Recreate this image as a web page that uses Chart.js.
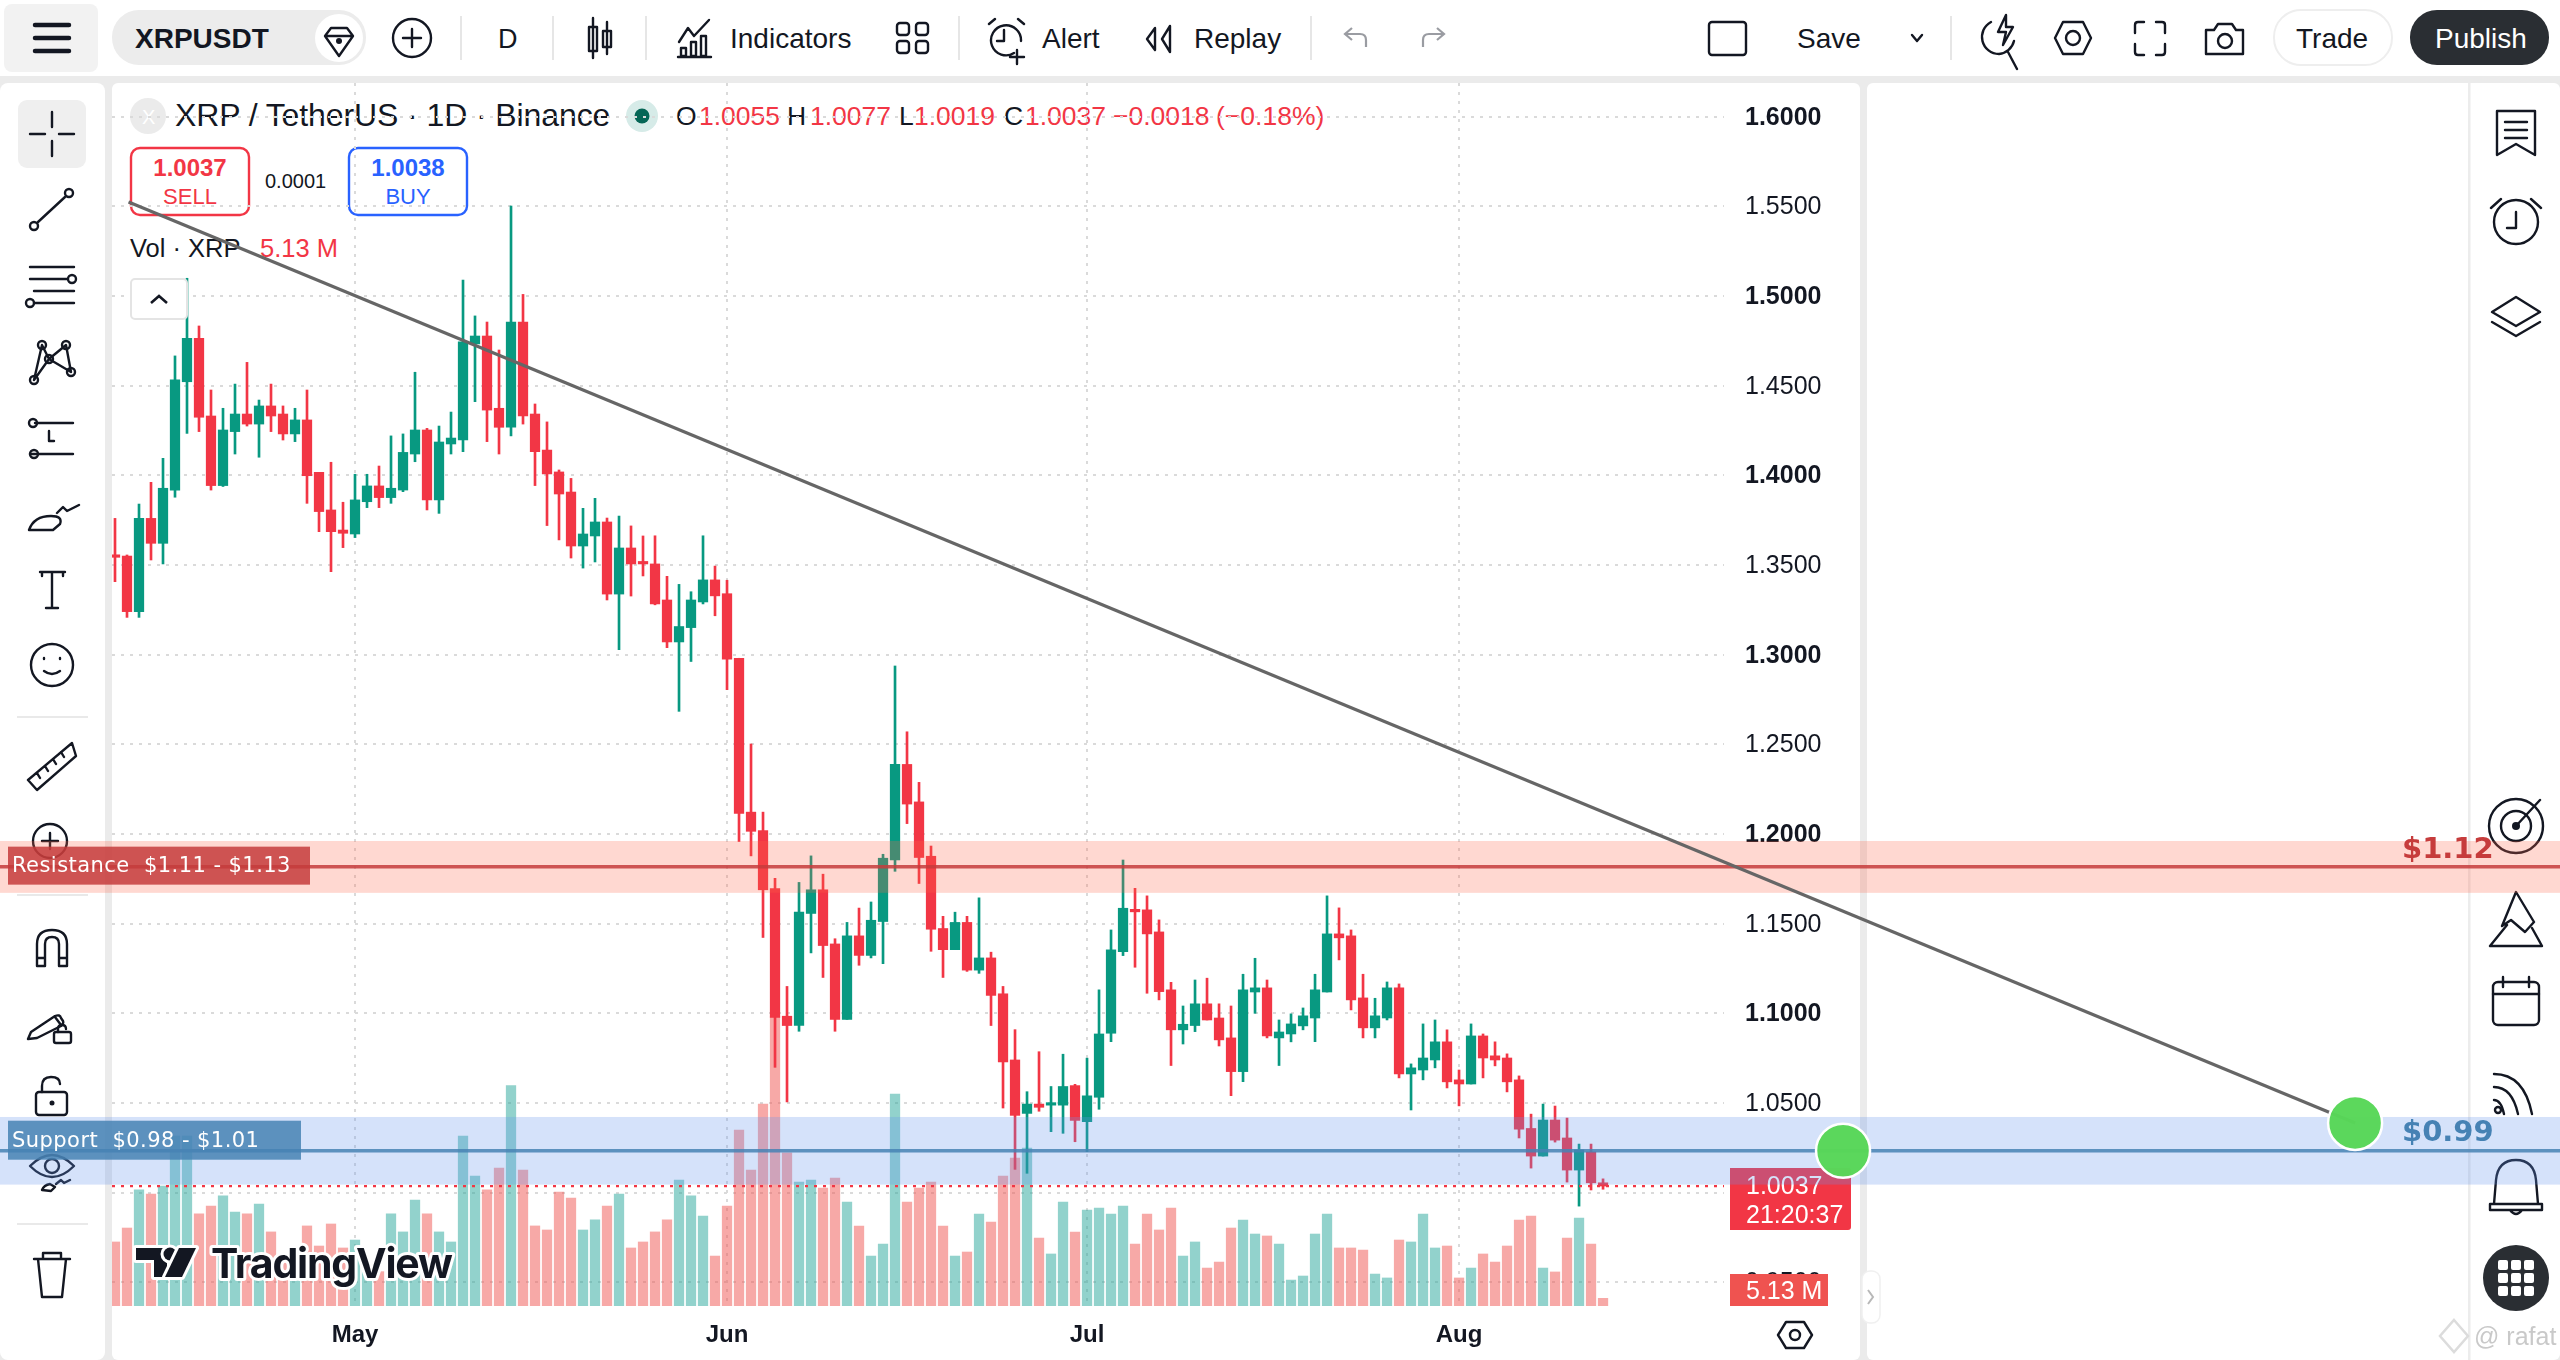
<!DOCTYPE html>
<html><head><meta charset="utf-8"><title>XRPUSDT</title>
<script src="https://cdn.jsdelivr.net/npm/chart.js@4"></script>
<style>
html,body{margin:0;padding:0;width:2560px;height:1360px;overflow:hidden;background:#ebebeb;font-family:"Liberation Sans",Arial,sans-serif}
svg,canvas{position:absolute;left:0;top:0}
#under{z-index:1}#chart{z-index:2;pointer-events:none}#over{z-index:3;pointer-events:none}
svg text{font-family:"Liberation Sans",Arial,sans-serif;fill:#131722}
.i{fill:none;stroke:#131722;stroke-width:2.4;stroke-linecap:round;stroke-linejoin:round}
</style></head><body>
<svg id="under" width="2560" height="1360">
<rect x="0" y="0" width="2560" height="76" fill="#fff"/>
<rect x="0" y="83" width="105" height="1277" rx="8" fill="#fff"/>
<rect x="112" y="83" width="1748" height="1277" rx="6" fill="#fff"/>
<rect x="1867" y="83" width="693" height="1277" rx="6" fill="#fff"/>
<rect x="2468" y="83" width="2.5" height="1277" fill="#ececec"/>
<!-- top bar -->
<rect x="4" y="4" width="94" height="68" rx="8" fill="#f2f2f2"/>
<g stroke="#131722" stroke-width="4.5" stroke-linecap="round"><path d="M35 25H69M35 38H69M35 51H69"/></g>
<rect x="112" y="10" width="254" height="55" rx="27" fill="#ececec"/>
<circle cx="339" cy="38" r="24" fill="#fff"/>
<text x="135" y="48" font-size="28" font-weight="700">XRPUSDT</text>
<path class="i" d="M331 28h16l6 8-14 20-14-20zM326 36h26"/><circle cx="339" cy="41" r="3" fill="#131722"/>
<circle class="i" cx="412" cy="38" r="19"/><path class="i" d="M412 29v18M403 38h18"/>
<path stroke="#e6e6e6" stroke-width="2" d="M461 16V60M553 16V60M646 16V60M959 16V60M1311 16V60M1951 16V60"/>
<text x="498" y="48" font-size="27" font-weight="400">D</text>
<path class="i" d="M593 18v40M607 22v32"/><rect class="i" fill="#fff" x="589" y="27" width="8" height="24"/><rect class="i" x="603" y="31" width="8" height="16"/>
<path class="i" d="M679 42l9-14 6 8 15-16M681 56v-8h5v8zM691 56v-14h5v14zM701 56v-20h5v20zM678 57h33"/>
<text x="730" y="48" font-size="28">Indicators</text>
<g class="i"><rect x="897" y="23" width="12" height="12" rx="3"/><rect x="916" y="23" width="12" height="12" rx="3"/><rect x="897" y="41" width="12" height="12" rx="3"/><rect x="916" y="41" width="12" height="12" rx="3"/></g>
<path class="i" d="M1014 53a15 15 0 1 1 7-12M1004 30v11h-7M989 24l6-5M1018 19l6 5M1017 50v14M1010 57h14"/>
<text x="1042" y="48" font-size="28">Alert</text>
<path class="i" d="M1155 28l-8 11 8 11zM1170 26l-8 13 8 13zM1170 26v26"/>
<text x="1194" y="48" font-size="28">Replay</text>
<path fill="none" stroke="#9a9ca2" stroke-width="2.2" d="M1366 47v-7q0-6-6-6h-14M1352 28l-7 6 7 6M1423 47v-7q0-6 6-6h14M1437 28l7 6-7 6"/>
<rect class="i" x="1709" y="22" width="37" height="33" rx="3"/>
<text x="1797" y="48" font-size="28">Save</text>
<path class="i" d="M1912 35l5 6 5-6"/>
<path class="i" d="M1991 22a17 17 0 0 0 8 32 17 17 0 0 0 15-13M2008 52l9 17M2006 15l-8 17h8l-3 13 10-18h-7z"/>
<path class="i" d="M2063 22h20l8 16-8 16h-20l-8-16z"/><circle class="i" cx="2073" cy="38" r="7"/>
<path class="i" d="M2135 33v-8q0-3 3-3h6M2156 22h6q3 0 3 3v8M2165 44v8q0 3-3 3h-6M2144 55h-6q-3 0-3-3v-8"/>
<path class="i" d="M2206 30h8l4-6h14l4 6h7v24h-37z"/><circle class="i" cx="2225" cy="41" r="7"/>
<rect x="2274" y="10" width="118" height="55" rx="27" fill="#fff" stroke="#eeeeee" stroke-width="2"/>
<text x="2296" y="48" font-size="28">Trade</text>
<rect x="2410" y="10" width="139" height="55" rx="27" fill="#2a2e33"/>
<text x="2435" y="48" font-size="28" style="fill:#fff">Publish</text>
<!-- left toolbar -->
<rect x="18" y="100" width="68" height="68" rx="9" fill="#efefef"/>
<path class="i" d="M52 112v15M52 141v15M30 134h15M59 134h15"/>
<path class="i" d="M38 222l27-25"/><circle class="i" cx="34" cy="226" r="4"/><circle class="i" cx="69" cy="193" r="4"/>
<path class="i" d="M30 267h44M30 279h37M34 291h40M34 303h40"/><circle class="i" cx="72" cy="279" r="4"/><circle class="i" cx="30" cy="303" r="4"/>
<path class="i" d="M34 380L42 345 49 359 66 345 71 372 49 359 34 380"/><circle class="i" fill="#fff" cx="34" cy="380" r="4"/><circle class="i" cx="42" cy="345" r="4"/><circle class="i" cx="49" cy="359" r="4"/><circle class="i" cx="66" cy="345" r="4"/><circle class="i" cx="71" cy="372" r="4"/>
<path class="i" d="M35 423h38M30 454h43"/><circle class="i" cx="33" cy="423" r="4"/><circle class="i" cx="34" cy="454" r="4"/><path class="i" d="M49 431v10h5"/>
<path class="i" d="M29 530q5-14 22-14 12 0 9 8l-7 6zM57 513l6-6 4 4 12-6"/>
<path class="i" d="M40 572h25M52 572v36M42 572v4M63 572v4M46 608h12"/>
<circle class="i" cx="52" cy="665" r="21"/><path class="i" d="M44 658v1M60 658v1M44 671q8 6 16 0"/>
<path stroke="#e9e9e9" stroke-width="2" d="M17 717H88M17 895H88M17 1224H88"/>
<path class="i" d="M28 780L72 743 76 756 37 790zM37 773l3 5M45 766l3 5M53 759l3 5M61 752l3 5"/>
<circle class="i" cx="50" cy="841" r="17"/><path class="i" d="M50 833v16M42 841h16"/>
<path class="i" d="M37 966v-22q0-14 15-14t15 14v22h-8v-22q0-7-7-7t-7 7v22zM37 958h8M59 958h8"/>
<path class="i" d="M31 1032l24-16q5-2 6 2l2 3q1 3-2 5l-24 12-9 1zM55 1017l6 8"/><rect class="i" x="54" y="1032" width="17" height="11" rx="2"/><path class="i" d="M58 1032v-3q0-4 4-4t4 4"/>
<rect class="i" x="36" y="1092" width="31" height="23" rx="3"/><path class="i" d="M42 1092v-6q0-9 9-9t9 7"/><circle cx="52" cy="1103" r="2.5" fill="#131722"/>
<path class="i" d="M30 1166q22-22 44 0-22 22-44 0z"/><circle class="i" cx="52" cy="1166" r="7"/>
<path class="i" d="M42 1190q2-5 8-6l5 3-4 4zM56 1184l5-4 3 3 6-3"/>
<path class="i" d="M34 1259h36M43 1259v-6h18v6M38 1259l4 38h20l4-38"/>
<!-- legend -->
<circle cx="148" cy="116" r="18" fill="#ebebeb"/><text x="142" y="124" font-size="20" style="fill:#fff">X</text>
<text x="175" y="126" font-size="32" style="letter-spacing:-.1px">XRP / TetherUS · 1D · Binance</text>
<circle cx="642" cy="116" r="16" fill="#d6ebe8"/><circle cx="642" cy="116" r="7.5" fill="#056656"/>
<g font-size="26.5">
<text x="676" y="125">O</text><text x="699" y="125" style="fill:#f23645">1.0055</text>
<text x="787" y="125">H</text><text x="810" y="125" style="fill:#f23645">1.0077</text>
<text x="899" y="125">L</text><text x="914" y="125" style="fill:#f23645">1.0019</text>
<text x="1004" y="125">C</text><text x="1025" y="125" style="fill:#f23645">1.0037</text>
<text x="1113" y="125" style="fill:#f23645">−0.0018</text><text x="1216" y="125" style="fill:#f23645">(−0.18%)</text>
</g>
<rect x="131" y="148" width="118" height="67" rx="9" fill="#fff" stroke="#f23645" stroke-width="2.4"/>
<text x="190" y="176" font-size="24" font-weight="700" text-anchor="middle" style="fill:#f23645">1.0037</text>
<text x="190" y="204" font-size="22" text-anchor="middle" style="fill:#f23645">SELL</text>
<text x="265" y="188" font-size="20">0.0001</text>
<rect x="349" y="148" width="118" height="67" rx="9" fill="#fff" stroke="#2962ff" stroke-width="2.4"/>
<text x="408" y="176" font-size="24" font-weight="700" text-anchor="middle" style="fill:#2962ff">1.0038</text>
<text x="408" y="204" font-size="22" text-anchor="middle" style="fill:#2962ff">BUY</text>
<text x="130" y="257" font-size="25.5">Vol · XRP</text><text x="260" y="257" font-size="25.5" style="fill:#f23645">5.13 M</text>
<!-- axis corner and handle -->
<path class="i" d="M1786 1322h18l8 13-8 13h-18l-8-13z"/><circle class="i" cx="1795" cy="1335" r="5"/>
<rect x="1862" y="1271" width="18" height="52" rx="8" fill="#fff" stroke="#f0f0f0" stroke-width="1.5"/>
<path fill="none" stroke="#b8b8b8" stroke-width="2" d="M1868 1290l5 7-5 7"/>
<!-- right toolbar -->
<path class="i" d="M2497 111h38v44l-19-11-19 11zM2505 122h22M2505 130h22M2505 138h22"/>
<circle class="i" cx="2516" cy="222" r="22"/><path class="i" d="M2516 212v16h-9M2491 208l10-9M2531 199l10 9"/>
<path class="i" d="M2516 297l24 15-24 14-24-14zM2492 322l24 14 24-14"/>
<circle class="i" cx="2516" cy="826" r="27"/><circle class="i" cx="2516" cy="826" r="15"/><circle cx="2516" cy="826" r="4" fill="#131722"/><path class="i" d="M2516 826l24-26"/>
<path class="i" d="M2516 892l18 30-9 10-14-12-9 6zM2507 925l-17 21h52l-10-18"/>
<rect class="i" x="2493" y="982" width="46" height="43" rx="5"/><path class="i" d="M2493 994h46M2503 977v10M2529 977v10"/>
<path class="i" d="M2494 1074q30 0 38 40M2494 1087q18 0 24 27M2494 1100q7 0 10 14"/><circle class="i" cx="2498" cy="1110" r="3"/>
<path class="i" d="M2516 1160q-18 0-20 20l-2 24h44l-2-24q-2-20-20-20zM2490 1204h52v6h-52zM2510 1210q6 8 12 0"/>
</svg>
<canvas id="chart" width="2560" height="1360"></canvas>
<svg id="over" width="2560" height="1360">
<rect x="131" y="279" width="56" height="40" rx="4" fill="#fff" stroke="#e4e4e4" stroke-width="2"/>
<path d="M151 303l8-7 8 7" fill="none" stroke="#131722" stroke-width="2.6"/>
<g stroke="#fff" stroke-width="6" paint-order="stroke" stroke-linejoin="round">
<path fill="#131722" d="M136 1248h31v29h-13v-17h-18z"/><circle cx="170" cy="1254" r="6.5" fill="#131722"/><path fill="#131722" d="M179 1248h17l-14 29h-17z"/>
<text x="211" y="1278" font-size="41" font-weight="700" style="font-family:Inter,'Liberation Sans';fill:#131722;letter-spacing:-1.2px">TradingView</text>
</g>
<circle cx="2516" cy="1278" r="33" fill="#2a2e33"/>
<g fill="#fff"><rect x="2498" y="1260" width="10" height="10" rx="2"/><rect x="2511" y="1260" width="10" height="10" rx="2"/><rect x="2524" y="1260" width="10" height="10" rx="2"/><rect x="2498" y="1273" width="10" height="10" rx="2"/><rect x="2511" y="1273" width="10" height="10" rx="2"/><rect x="2524" y="1273" width="10" height="10" rx="2"/><rect x="2498" y="1286" width="10" height="10" rx="2"/><rect x="2511" y="1286" width="10" height="10" rx="2"/><rect x="2524" y="1286" width="10" height="10" rx="2"/></g>
<path d="M2454 1320l14 16-14 16-14-16z" fill="none" stroke="#dcdcdc" stroke-width="2.5"/>
<text x="2474" y="1345" font-size="25" style="fill:#c9c9c9">@ rafat</text>
</svg>
<script>
const monthTicks = [20, 51, 81, 112];
const monthLabels = ['May', 'Jun', 'Jul', 'Aug'];
const open = [1.3556,1.3550,1.3240,1.3760,1.3621,1.3918,1.4522,1.4764,1.4331,1.3943,1.4244,1.4342,1.4286,1.4387,1.4342,1.4231,1.4309,1.4017,1.3807,1.3695,1.3673,1.3853,1.3941,1.3876,1.3918,1.4119,1.4253,1.3863,1.4175,1.4197,1.4733,1.4777,1.4374,1.4268,1.4855,1.4342,1.4141,1.4019,1.3907,1.3606,1.3662,1.3740,1.3338,1.3595,1.3517,1.3506,1.3305,1.3071,1.3151,1.3294,1.3417,1.3340,1.2980,1.2122,1.2019,1.1696,1.0984,1.0932,1.1557,1.1689,1.1387,1.0966,1.1432,1.1323,1.1512,1.1856,1.2388,1.2179,1.1876,1.1473,1.1355,1.1507,1.1241,1.1309,1.1109,1.0740,1.0442,1.0494,1.0488,1.0488,1.0597,1.0396,1.0532,1.0889,1.1344,1.1579,1.1577,1.1454,1.1131,1.0908,1.0932,1.1053,1.0974,1.0863,1.0675,1.1119,1.1142,1.0863,1.0885,1.0930,1.0974,1.1119,1.1443,1.1432,1.1086,1.0919,1.0974,1.1142,1.0662,1.0684,1.0740,1.0841,1.0629,1.0606,1.0874,1.0763,1.0751,1.0629,1.0358,1.0204,1.0405,1.0305,1.0126,1.0227,1.0055];
const high = [1.3760,1.3556,1.3840,1.3961,1.4095,1.4666,1.5099,1.4833,1.4476,1.4374,1.4509,1.4630,1.4420,1.4509,1.4387,1.4374,1.4476,1.4017,1.4073,1.3850,1.4006,1.4006,1.4052,1.4220,1.4231,1.4575,1.4262,1.4275,1.4353,1.5089,1.4889,1.4855,1.4699,1.5502,1.5009,1.4398,1.4298,1.4030,1.3983,1.3816,1.3872,1.3762,1.3773,1.3718,1.3662,1.3663,1.3437,1.3392,1.3351,1.3663,1.3494,1.3415,1.2980,1.2502,1.2122,1.1753,1.1150,1.1730,1.1878,1.1776,1.1416,1.1507,1.1587,1.1621,1.1887,1.2937,1.2570,1.2288,1.1933,1.1541,1.1564,1.1541,1.1644,1.1341,1.1150,1.0909,1.0563,1.0786,1.0592,1.0772,1.0604,1.0750,1.1131,1.1465,1.1855,1.1697,1.1655,1.1521,1.1173,1.1041,1.1186,1.1196,1.1053,1.1041,1.1218,1.1307,1.1186,1.0963,1.0997,1.1030,1.1218,1.1655,1.1588,1.1465,1.1218,1.1084,1.1175,1.1164,1.0718,1.0941,1.0963,1.0908,1.0684,1.0941,1.0885,1.0841,1.0774,1.0651,1.0438,1.0494,1.0483,1.0416,1.0271,1.0271,1.0077];
const low = [1.3407,1.3208,1.3208,1.3528,1.3506,1.3878,1.4234,1.4244,1.3918,1.3938,1.4119,1.4275,1.4101,1.4244,1.4197,1.4188,1.3844,1.3686,1.3463,1.3597,1.3653,1.3820,1.3820,1.3844,1.3909,1.4076,1.3807,1.3788,1.4119,1.4132,1.4411,1.4188,1.4119,1.4220,1.4286,1.3943,1.3720,1.3640,1.3539,1.3483,1.3517,1.3305,1.3028,1.3327,1.3439,1.3278,1.3039,1.2684,1.2962,1.3283,1.3217,1.2805,1.1958,1.1878,1.1423,1.0699,1.0506,1.0900,1.1337,1.1200,1.0900,1.0966,1.1268,1.1309,1.1277,1.1792,1.2058,1.1724,1.1346,1.1200,1.1355,1.1234,1.1223,1.0932,1.0472,1.0130,1.0108,1.0454,1.0340,1.0331,1.0284,1.0229,1.0465,1.0842,1.1322,1.1257,1.1112,1.1075,1.0709,1.0829,1.0898,1.0963,1.0818,1.0541,1.0619,1.1000,1.0863,1.0709,1.0841,1.0908,1.0842,1.1119,1.1298,1.1019,1.0863,1.0863,1.0963,1.0640,1.0461,1.0629,1.0696,1.0584,1.0484,1.0606,1.0640,1.0707,1.0562,1.0305,1.0137,1.0204,1.0282,1.0059,0.9925,1.0015,1.0019];
const close = [1.3543,1.3240,1.3760,1.3621,1.3928,1.4532,1.4764,1.4324,1.3943,1.4253,1.4342,1.4286,1.4387,1.4331,1.4231,1.4309,1.3998,1.3798,1.3686,1.3677,1.3863,1.3941,1.3876,1.3928,1.4128,1.4253,1.3863,1.4186,1.4208,1.4744,1.4777,1.4364,1.4268,1.4855,1.4331,1.4132,1.4008,1.3896,1.3606,1.3673,1.3740,1.3338,1.3595,1.3506,1.3506,1.3283,1.3071,1.3157,1.3305,1.3417,1.3328,1.2975,1.2115,1.2015,1.1689,1.0977,1.0932,1.1564,1.1689,1.1378,1.0966,1.1432,1.1323,1.1519,1.1865,1.2388,1.2167,1.1869,1.1469,1.1355,1.1507,1.1241,1.1309,1.1100,1.0729,1.0431,1.0494,1.0476,1.0494,1.0592,1.0403,1.0540,1.0885,1.1354,1.1586,1.1566,1.1443,1.1121,1.0908,1.0939,1.1053,1.0963,1.0852,1.0675,1.1131,1.1142,1.0874,1.0896,1.0941,1.0986,1.1131,1.1443,1.1421,1.1075,1.0919,1.0986,1.1142,1.0662,1.0696,1.0751,1.0841,1.0618,1.0606,1.0874,1.0751,1.0740,1.0618,1.0354,1.0204,1.0405,1.0293,1.0126,1.0238,1.0055,1.0037];
const volumeM = [42.7,52,77.4,74.7,80,113.4,113.4,61.4,66.7,73.4,62.7,61.4,68,49.4,31.8,28.4,53.4,40,54.7,38.7,44,24,22.9,61.4,49.4,70.7,61.4,49.4,42.7,113.4,86.7,77.4,92,147,90.7,53.4,50.7,76,72,50.7,57.4,66.7,74.7,38.7,42.7,49.4,57.4,84,73.4,60,33.3,66.7,117.3,90.7,134.7,193,102.2,82.7,84,78.7,85.3,69.3,53.3,33.3,41.3,141.3,69.3,78.7,82.7,53.3,33.3,36,61.3,56,86.7,98.7,105.3,45.3,34.7,69.3,49.3,64,65.3,61.3,66.7,41.3,61.3,50.7,65.3,33.3,42.7,25.3,29.3,52,57.3,48,46.7,41.3,17.3,20,48,61.3,38.7,38.7,37.3,21.3,18.7,44,42.7,61.3,38.7,40,18.7,25.3,34.7,29.3,40,57.3,60,25.3,22.7,45.3,58.7,41.3,5.13];
const resistanceBand = [1.1672, 1.1961];
const resistanceLevel = 1.1818;
const supportBand = [1.0045, 1.0422];
const supportLevel = 1.0234;
const lastPrice = 1.0037;
const trendStart = [1.13, 1.5524];
const trendEnd = [186.67, 1.0389];
const handlePoints = [[144, 1.0234], [186.67, 1.0389]];

const UP = '#089981', DOWN = '#f23645';
const idx = close.map((_, i) => i);
const isUp = i => close[i] >= open[i];
const xMin = -0.25, xMax = 134.08;
const FARLEFT = -9.6, FARRIGHT = 203.8;

const bandsPlugin = {
  id: 'bands',
  beforeDatasetsDraw(chart) {
    const {ctx, scales:{y, yv}} = chart;
    const py = y.getPixelForValue(lastPrice);
    ctx.save();
    ctx.fillStyle = '#f23645';
    ctx.beginPath(); ctx.roundRect(1730, py - 18, 121, 62, [0, 3, 3, 0]); ctx.fill();
    ctx.fillStyle = '#fff'; ctx.font = '25px "Liberation Sans"'; ctx.textBaseline = 'middle'; ctx.textAlign = 'left';
    ctx.fillText('1.0037', 1746, py + 1);
    ctx.fillText('21:20:37', 1746, py + 30);
    const vb = yv.getPixelForValue(0);
    ctx.fillStyle = '#ef5350';
    ctx.fillRect(1730, vb - 32, 98, 32);
    ctx.fillStyle = '#fff';
    ctx.fillText('5.13 M', 1746, vb - 14);
    ctx.restore();
  },
  beforeDatasetDraw(chart, args) {
    if (chart.data.datasets[args.index].label !== 'Resistance level') return;
    const {ctx, scales:{y}} = chart;
    const fill = (b, c) => {
      const t = y.getPixelForValue(b[1]), u = y.getPixelForValue(b[0]);
      ctx.fillStyle = c; ctx.fillRect(0, t, chart.width, u - t);
    };
    ctx.save();
    fill(resistanceBand, 'rgba(255,99,71,.25)');
    fill(supportBand, 'rgba(100,149,237,.27)');
    ctx.restore();
  },
  afterDatasetsDraw(chart) {
    const {ctx, scales:{y, x2}} = chart;
    ctx.save();
    const rY = y.getPixelForValue(resistanceLevel), sY = y.getPixelForValue(supportLevel);
    ctx.textBaseline = 'middle'; ctx.textAlign = 'left';
    ctx.fillStyle = 'rgba(198,60,60,.85)'; ctx.fillRect(8, rY - 20, 302, 38);
    ctx.fillStyle = 'rgba(70,130,180,.85)'; ctx.fillRect(8, sY - 30, 293, 39);
    ctx.fillStyle = '#fff'; ctx.font = '21px "DejaVu Sans"';
    ctx.letterSpacing = '0.45px';
    ctx.fillText('Resistance  $1.11 - $1.13', 12, rY);
    ctx.fillText('Support  $0.98 - $1.01', 12, sY - 9);
    ctx.letterSpacing = '0px';
    ctx.font = 'bold 29px "DejaVu Sans"';
    ctx.fillStyle = 'rgb(198,60,60)'; ctx.fillText('$1.12', 2402, rY - 16);
    ctx.fillStyle = 'rgb(70,130,180)'; ctx.fillText('$0.99', 2402, sY - 17);
    for (const [px, pv] of handlePoints) {
      ctx.beginPath();
      ctx.arc(x2.getPixelForValue(px), y.getPixelForValue(pv), 27, 0, Math.PI * 2);
      ctx.fillStyle = '#fff'; ctx.globalAlpha = .75; ctx.fill(); ctx.globalAlpha = 1;
      ctx.fillStyle = 'rgba(74,212,74,.9)'; ctx.fill();
      ctx.lineWidth = 2.5; ctx.strokeStyle = '#fff'; ctx.stroke();
    }
    ctx.restore();
  }
};

const flatLine = (label, v, color, w, order) => ({
  type:'line', label, xAxisID:'x2', yAxisID:'y', order, clip:false,
  data:[{x:FARLEFT,y:v},{x:FARRIGHT,y:v}],
  borderColor:color, borderWidth:w, pointRadius:0, fill:false, tension:0
});

new Chart(document.getElementById('chart'), {
  type:'bar',
  data:{datasets:[
    {label:'Volume', yAxisID:'yv', xAxisID:'x', order:5, grouped:false, barThickness:9.6,
     data:idx.map(i=>({x:i,y:volumeM[i]})),
     backgroundColor:idx.map(i=>isUp(i)?'rgba(38,166,154,.5)':'rgba(239,83,80,.5)')},
    {label:'Wick', yAxisID:'y', xAxisID:'x', order:4, grouped:false, barThickness:2,
     data:idx.map(i=>({x:i,y:[low[i],high[i]]})),
     backgroundColor:idx.map(i=>isUp(i)?UP:DOWN)},
    {label:'Body', yAxisID:'y', xAxisID:'x', order:3, grouped:false, barThickness:9.6, minBarLength:2.5,
     data:idx.map(i=>({x:i,y:[Math.min(open[i],close[i]),Math.max(open[i],close[i])]})),
     backgroundColor:idx.map(i=>isUp(i)?UP:DOWN)},
    {type:'line', label:'Last price', xAxisID:'x2', yAxisID:'y', order:2,
     data:[{x:xMin,y:lastPrice},{x:xMax,y:lastPrice}],
     borderColor:'#f23645', borderWidth:2.2, borderDash:[3,6], pointRadius:0},
    flatLine('Resistance level', resistanceLevel, 'rgba(198,60,60,.85)', 3.5, 1),
    flatLine('Support level', supportLevel, 'rgba(70,130,180,.85)', 3.5, 0),
    {type:'line', label:'Trend', xAxisID:'x2', yAxisID:'y', order:-1, clip:false,
     data:[{x:trendStart[0],y:trendStart[1]},{x:trendEnd[0],y:trendEnd[1]}],
     borderColor:'#666666', borderWidth:3.2, pointRadius:0, tension:0}
  ]},
  options:{
    responsive:false, animation:false, devicePixelRatio:1,
    layout:{padding:{left:112, top:83, right:700, bottom:0}},
    plugins:{legend:{display:false}, tooltip:{enabled:false}},
    scales:{
      x:{type:'linear', min:xMin, max:xMax, position:'bottom', offset:false,
         afterBuildTicks:s=>{s.ticks=monthTicks.map(v=>({value:v}));},
         afterFit:s=>{s.height=54;},
         ticks:{autoSkip:false, maxRotation:0, padding:15, color:'#131722',
                font:{family:'"Liberation Sans"', size:24, weight:'bold'},
                callback:v=>monthLabels[monthTicks.indexOf(v)]},
         grid:{offset:false, color:'#dadada', lineWidth:2, drawTicks:false}, border:{display:false, dash:[3,6]}},
      x2:{type:'linear', min:xMin, max:xMax, display:false, offset:false},
      y:{type:'linear', position:'right', min:0.9368, max:1.61879,
         afterFit:s=>{s.width=136;},
         ticks:{stepSize:0.05, includeBounds:false, padding:21, labelOffset:1, color:'#131722',
                callback:v=>v.toFixed(4),
                font:c=>({family:'"Liberation Sans"', size:25,
                          weight:(c.tick && Math.round(c.tick.value*100)%10===0)?'bold':'normal'})},
         grid:{color:'#dadada', lineWidth:2, drawTicks:false}, border:{display:false, dash:[3,6]}},
      yv:{type:'linear', min:0, max:815.7, display:false}
    }
  },
  plugins:[bandsPlugin]
});
</script>
</body></html>
